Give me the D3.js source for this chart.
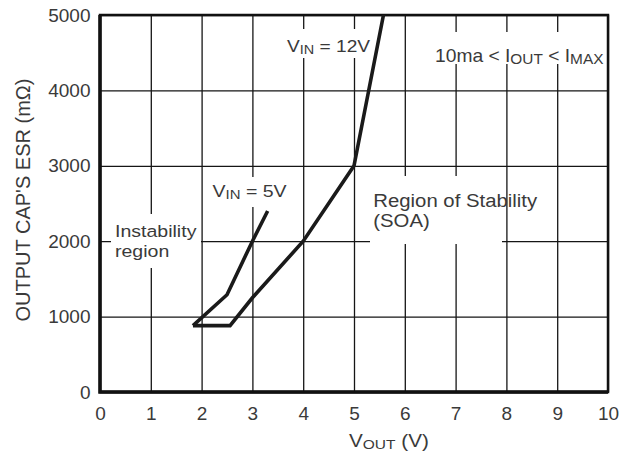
<!DOCTYPE html>
<html>
<head>
<meta charset="utf-8">
<script src="https://cdn.jsdelivr.net/npm/d3@7"></script>
<style>
  body { margin: 0; background: #fff; }
  svg text { font-family: Arial, "Liberation Sans", sans-serif; fill: #3a3a3a; }
</style>
</head>
<body>
<svg id="chart" width="625" height="461"></svg>
<script>
// ticks
const xTicks = [0, 1, 2, 3, 4, 5, 6, 7, 8, 9, 10];
const yTicks = [0, 1000, 2000, 3000, 4000, 5000];

// stability boundary, VIN = 12V (lower right curve incl. the flat foot)
const vout12 = [1.83, 2.56, 3.0, 4.0, 5.0, 5.58];
const esr12 = [880, 880, 1250, 2000, 3000, 5000];

// stability boundary, VIN = 5V
const vout5 = [1.83, 2.5, 3.0, 3.3];
const esr5 = [880, 1290, 2000, 2400];

const svg = d3.select("#chart");
const plotL = 100, plotR = 608, plotT = 15, plotB = 392;

const x = d3.scaleLinear().domain([0, 10]).range([plotL, plotR]);
const y = d3.scaleLinear().domain([0, 5000]).range([plotB, plotT]);

// grid
const gx = svg.append("g")
  .attr("transform", `translate(0,${plotB})`)
  .call(d3.axisBottom(x).tickValues(xTicks).tickSize(-(plotB - plotT)).tickFormat(""));
const gy = svg.append("g")
  .attr("transform", `translate(${plotL},0)`)
  .call(d3.axisLeft(y).tickValues(yTicks).tickSize(-(plotR - plotL)).tickFormat(""));
[gx, gy].forEach((g) => {
  g.select(".domain").remove();
  g.selectAll("line").attr("stroke", "#151515").attr("stroke-width", 1.3);
});

// white boxes behind the annotations (grid is broken there)
const masks = [
  [111, 214, 90, 54],   // Instability region
  [206, 177, 92, 30],   // VIN = 5V
  [283, 29, 89, 29],    // VIN = 12V
  [432, 32, 172, 32],   // 10ma < IOUT < IMAX
  [370, 176, 132, 68],  // Region of Stability
];
svg.append("g").selectAll("rect")
  .data(masks)
  .join("rect")
  .attr("x", (d) => d[0]).attr("y", (d) => d[1])
  .attr("width", (d) => d[2]).attr("height", (d) => d[3])
  .attr("fill", "#fff");

// frame
svg.append("rect")
  .attr("x", plotL).attr("y", plotT)
  .attr("width", plotR - plotL).attr("height", plotB - plotT)
  .attr("fill", "none").attr("stroke", "#111").attr("stroke-width", 2.5);
svg.append("path")
  .attr("d", `M${plotL},${plotT}V${plotB}H${plotR}`)
  .attr("fill", "none").attr("stroke", "#111").attr("stroke-width", 3.5);

// curves
const line = d3.line().x((d) => x(d[0])).y((d) => y(d[1]));
const curves = [d3.zip(vout12, esr12), d3.zip(vout5, esr5)];
svg.append("g").selectAll("path")
  .data(curves)
  .join("path")
  .attr("d", line)
  .attr("fill", "none")
  .attr("stroke", "#1a1a1a")
  .attr("stroke-width", 3.6)
  .attr("stroke-linejoin", "miter")
  .attr("stroke-miterlimit", 10);

// tick labels
const ax = svg.append("g")
  .attr("transform", `translate(0,${plotB})`)
  .call(d3.axisBottom(x).tickValues(xTicks).tickSize(0).tickPadding(14.5).tickFormat(d3.format("d")));
const ay = svg.append("g")
  .attr("transform", `translate(${plotL},0)`)
  .call(d3.axisLeft(y).tickValues(yTicks).tickSize(0).tickPadding(9.5).tickFormat(d3.format("d")));
[ax, ay].forEach((g) => {
  g.select(".domain").remove();
  g.selectAll("text").attr("font-size", 19).attr("fill", null);
});

// text helper: parts are [string, isSub]
function addLabel(px, py, lines, size, subSize, sx, lineH) {
  const g = svg.append("g").attr("transform", `translate(${px},${py}) scale(${sx},1)`);
  lines.forEach((parts, i) => {
    const t = g.append("text").attr("x", 0).attr("y", i * lineH).attr("font-size", size);
    let shifted = false;
    parts.forEach(([s, sub]) => {
      const ts = t.append("tspan").text(s);
      if (sub && !shifted) { ts.attr("dy", 2).attr("font-size", subSize); shifted = true; }
      else if (sub) { ts.attr("font-size", subSize); }
      else if (shifted) { ts.attr("dy", -2); shifted = false; }
    });
  });
}

addLabel(287, 51.5, [[["V"], ["IN", true], [" = 12V"]]], 16.5, 12.5, 1.16, 0);
addLabel(212.5, 197.3, [[["V"], ["IN", true], [" = 5V"]]], 17, 13, 1.15, 0);
addLabel(435, 61.5, [[["10ma < I"], ["OUT", true], [" < I"], ["MAX", true]]], 17.5, 14, 1.1, 0);
addLabel(115, 237.3, [[["Instability"]], [["region"]]], 17, 13, 1.15, 19.5);
addLabel(373.3, 206.7, [[["Region of Stability"]], [["(SOA)"]]], 18, 14, 1.13, 20);

// axis titles
addLabel(349, 447, [[["V"], ["OUT", true], [" (V)"]]], 18, 13.5, 1.15, 0);
svg.append("text")
  .attr("transform", "translate(30,200) rotate(-90)")
  .attr("text-anchor", "middle")
  .attr("font-size", 20)
  .text("OUTPUT CAP'S ESR (mΩ)");
</script>
</body>
</html>
